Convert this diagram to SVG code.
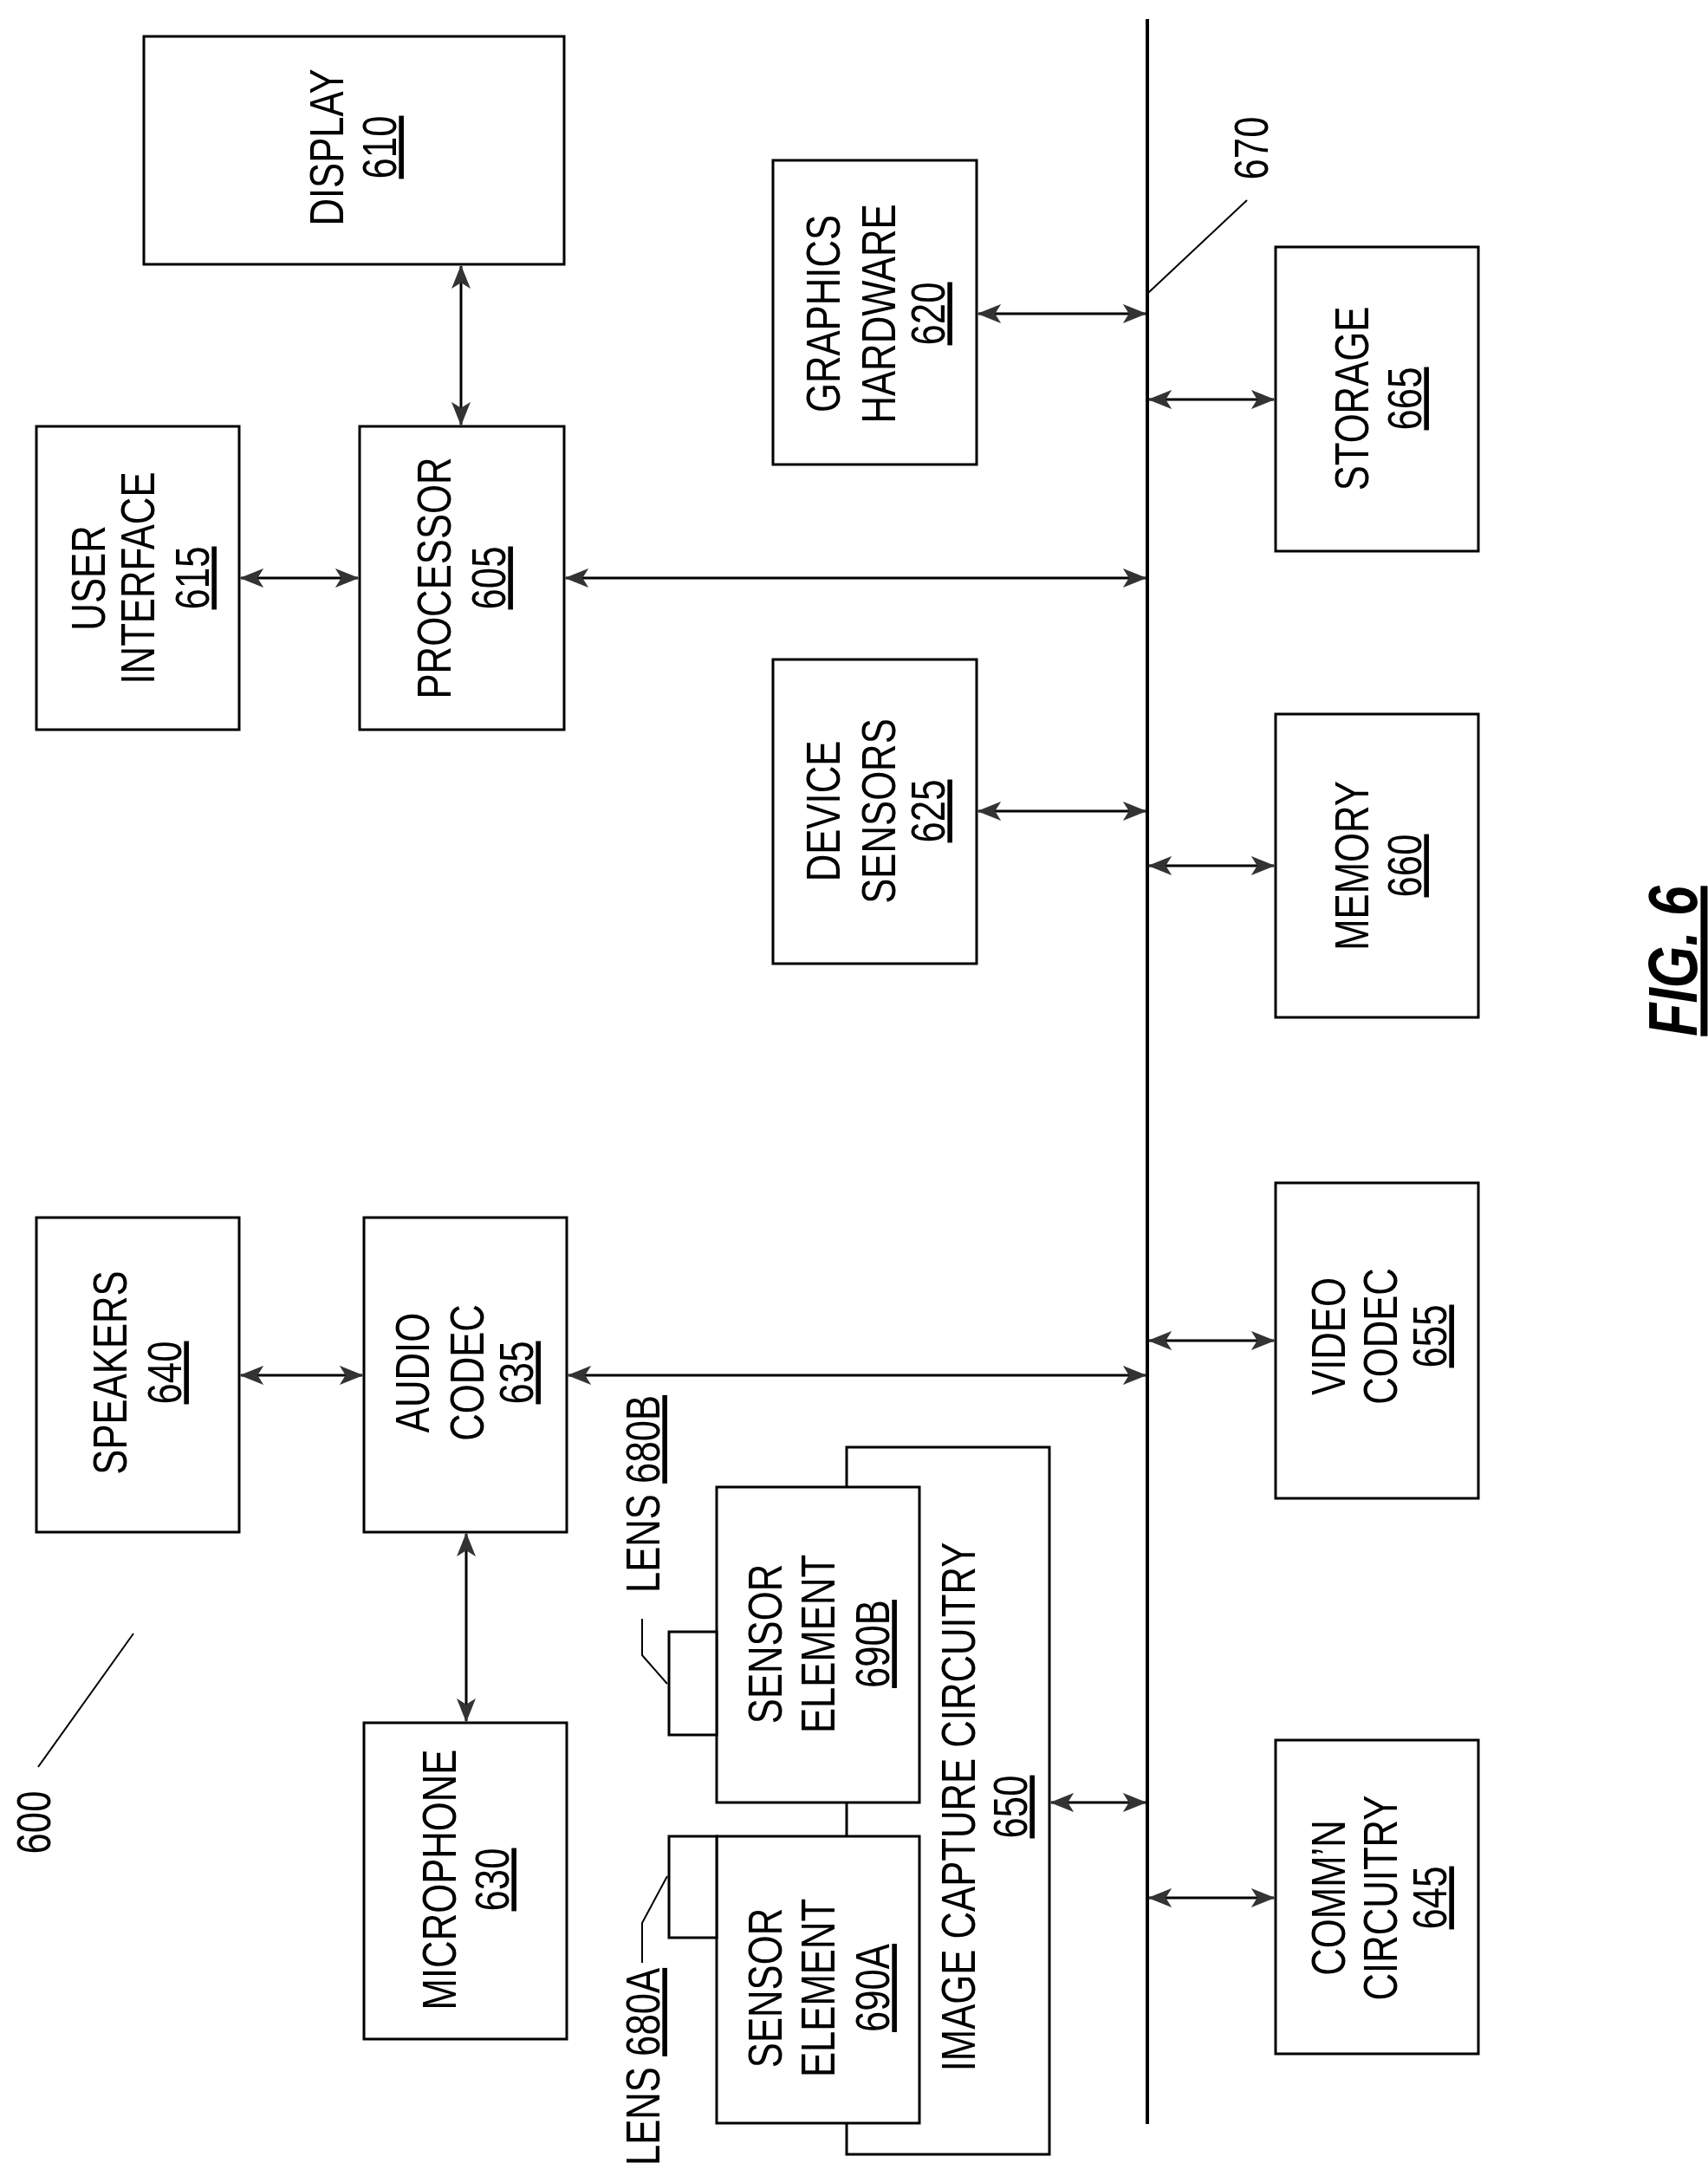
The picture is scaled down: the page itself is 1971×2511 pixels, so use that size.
<svg xmlns="http://www.w3.org/2000/svg" width="1971" height="2511" viewBox="0 0 1971 2511">
<style>
.b{fill:#fff;stroke:#000;stroke-width:3}
.t{font-family:"Liberation Sans",Arial,sans-serif;font-size:56px;text-anchor:middle;fill:#000}
.u{text-decoration:underline}
.c{stroke:#000;stroke-width:3;fill:none}
.l{stroke:#000;stroke-width:2;fill:none}
</style>
<defs>
<marker id="a" viewBox="0 0 20 16" refX="19" refY="8" markerWidth="28" markerHeight="22" orient="auto-start-reverse" markerUnits="userSpaceOnUse">
<path d="M0,0 L20,8 L0,16 L5,8 Z" fill="#333"/>
</marker>
</defs>
<rect width="1971" height="2511" fill="#fff"/>
<g id="connectors">
<line x1="1324" y1="22" x2="1324" y2="2451" stroke="#000" stroke-width="4"/>
<g class="c" marker-start="url(#a)" marker-end="url(#a)">
<line x1="532" y1="307" x2="532" y2="490" marker-start="url(#a)" marker-end="url(#a)"/>
<line x1="278" y1="667" x2="413" y2="667" marker-start="url(#a)" marker-end="url(#a)"/>
<line x1="653" y1="667" x2="1322" y2="667" marker-start="url(#a)" marker-end="url(#a)"/>
<line x1="1129" y1="362" x2="1322" y2="362" marker-start="url(#a)" marker-end="url(#a)"/>
<line x1="1326" y1="461" x2="1470" y2="461" marker-start="url(#a)" marker-end="url(#a)"/>
<line x1="1129" y1="936" x2="1322" y2="936" marker-start="url(#a)" marker-end="url(#a)"/>
<line x1="1326" y1="999" x2="1470" y2="999" marker-start="url(#a)" marker-end="url(#a)"/>
<line x1="278" y1="1587" x2="418" y2="1587" marker-start="url(#a)" marker-end="url(#a)"/>
<line x1="656" y1="1587" x2="1322" y2="1587" marker-start="url(#a)" marker-end="url(#a)"/>
<line x1="1326" y1="1547" x2="1470" y2="1547" marker-start="url(#a)" marker-end="url(#a)"/>
<line x1="538" y1="1770" x2="538" y2="1986" marker-start="url(#a)" marker-end="url(#a)"/>
<line x1="1213" y1="2080" x2="1322" y2="2080" marker-start="url(#a)" marker-end="url(#a)"/>
<line x1="1326" y1="2190" x2="1470" y2="2190" marker-start="url(#a)" marker-end="url(#a)"/>
</g>
<line class="l" x1="1325" y1="338" x2="1439" y2="231"/>
<line class="l" x1="154" y1="1885" x2="44" y2="2039"/>
<polyline class="l" points="741,1868 741,1910 770,1943"/>
<polyline class="l" points="770,2165 741,2219 741,2265"/>
</g>
<g id="n610"><rect class="b" x="166" y="42" width="485" height="263"/>
<text class="t" transform="translate(396,170) rotate(-90) scale(.78,1)">DISPLAY</text>
<text class="t u" transform="translate(457,170) rotate(-90) scale(.78,1)">610</text></g>
<g id="n615"><rect class="b" x="42" y="492" width="234" height="350"/>
<text class="t" transform="translate(121,667) rotate(-90) scale(.78,1)">USER</text>
<text class="t" transform="translate(178,667) rotate(-90) scale(.78,1)">INTERFACE</text>
<text class="t u" transform="translate(241,667) rotate(-90) scale(.78,1)">615</text></g>
<g id="n605"><rect class="b" x="415" y="492" width="236" height="350"/>
<text class="t" transform="translate(520,667) rotate(-90) scale(.78,1)">PROCESSOR</text>
<text class="t u" transform="translate(583,667) rotate(-90) scale(.78,1)">605</text></g>
<g id="n620"><rect class="b" x="892" y="185" width="235" height="351"/>
<text class="t" transform="translate(969,362) rotate(-90) scale(.78,1)">GRAPHICS</text>
<text class="t" transform="translate(1033,362) rotate(-90) scale(.78,1)">HARDWARE</text>
<text class="t u" transform="translate(1090,362) rotate(-90) scale(.78,1)">620</text></g>
<g id="n625"><rect class="b" x="892" y="761" width="235" height="351"/>
<text class="t" transform="translate(969,936) rotate(-90) scale(.78,1)">DEVICE</text>
<text class="t" transform="translate(1033,936) rotate(-90) scale(.78,1)">SENSORS</text>
<text class="t u" transform="translate(1090,936) rotate(-90) scale(.78,1)">625</text></g>
<g id="n665"><rect class="b" x="1472" y="285" width="234" height="351"/>
<text class="t" transform="translate(1579,460) rotate(-90) scale(.78,1)">STORAGE</text>
<text class="t u" transform="translate(1640,460) rotate(-90) scale(.78,1)">665</text></g>
<g id="n660"><rect class="b" x="1472" y="824" width="234" height="350"/>
<text class="t" transform="translate(1579,999) rotate(-90) scale(.78,1)">MEMORY</text>
<text class="t u" transform="translate(1640,999) rotate(-90) scale(.78,1)">660</text></g>
<g id="n640"><rect class="b" x="42" y="1405" width="234" height="363"/>
<text class="t" transform="translate(146,1584) rotate(-90) scale(.78,1)">SPEAKERS</text>
<text class="t u" transform="translate(209,1584) rotate(-90) scale(.78,1)">640</text></g>
<g id="n635"><rect class="b" x="420" y="1405" width="234" height="363"/>
<text class="t" transform="translate(495,1584) rotate(-90) scale(.78,1)">AUDIO</text>
<text class="t" transform="translate(558,1584) rotate(-90) scale(.78,1)">CODEC</text>
<text class="t u" transform="translate(615,1584) rotate(-90) scale(.78,1)">635</text></g>
<g id="n630"><rect class="b" x="420" y="1988" width="234" height="365"/>
<text class="t" transform="translate(526,2169) rotate(-90) scale(.78,1)">MICROPHONE</text>
<text class="t u" transform="translate(587,2169) rotate(-90) scale(.78,1)">630</text></g>
<g id="n655"><rect class="b" x="1472" y="1365" width="234" height="364"/>
<text class="t" transform="translate(1552,1542) rotate(-90) scale(.78,1)">VIDEO</text>
<text class="t" transform="translate(1612,1542) rotate(-90) scale(.78,1)">CODEC</text>
<text class="t u" transform="translate(1669,1542) rotate(-90) scale(.78,1)">655</text></g>
<g id="n645"><rect class="b" x="1472" y="2008" width="234" height="362"/>
<text class="t" transform="translate(1552,2190) rotate(-90) scale(.78,1)">COMM’N</text>
<text class="t" transform="translate(1612,2190) rotate(-90) scale(.78,1)">CIRCUITRY</text>
<text class="t u" transform="translate(1669,2190) rotate(-90) scale(.78,1)">645</text></g>
<g id="n650"><rect class="b" x="977" y="1670" width="234" height="816"/>
<text class="t" transform="translate(1125,2085) rotate(-90) scale(.78,1)">IMAGE CAPTURE CIRCUITRY</text>
<text class="t u" transform="translate(1185,2085) rotate(-90) scale(.78,1)">650</text></g>
<g id="n690B"><rect class="b" x="827" y="1716" width="234" height="364"/>
<text class="t" transform="translate(902,1897) rotate(-90) scale(.78,1)">SENSOR</text>
<text class="t" transform="translate(963,1897) rotate(-90) scale(.78,1)">ELEMENT</text>
<text class="t u" transform="translate(1026,1897) rotate(-90) scale(.78,1)">690B</text></g>
<g id="n690A"><rect class="b" x="827" y="2119" width="234" height="331"/>
<text class="t" transform="translate(902,2294) rotate(-90) scale(.78,1)">SENSOR</text>
<text class="t" transform="translate(963,2294) rotate(-90) scale(.78,1)">ELEMENT</text>
<text class="t u" transform="translate(1026,2294) rotate(-90) scale(.78,1)">690A</text></g>
<g id="n680B"><rect class="b" x="772" y="1883" width="55" height="119"/>
<text class="t" transform="translate(761,1724) rotate(-90) scale(.78,1)">LENS <tspan class="u">680B</tspan></text></g>
<g id="n680A"><rect class="b" x="772" y="2119" width="55" height="117"/>
<text class="t" transform="translate(761,2385) rotate(-90) scale(.78,1)">LENS <tspan class="u">680A</tspan></text></g>
<g id="labels">
<text class="t" transform="translate(1463,171) rotate(-90) scale(.78,1)">670</text>
<text class="t" transform="translate(58,2103) rotate(-90) scale(.78,1)">600</text>
<text class="t u" style="font-size:80px;font-weight:bold;font-style:italic" transform="translate(1958,1109) rotate(-90) scale(.78,1)">FIG. 6</text>
</g>
</svg>
